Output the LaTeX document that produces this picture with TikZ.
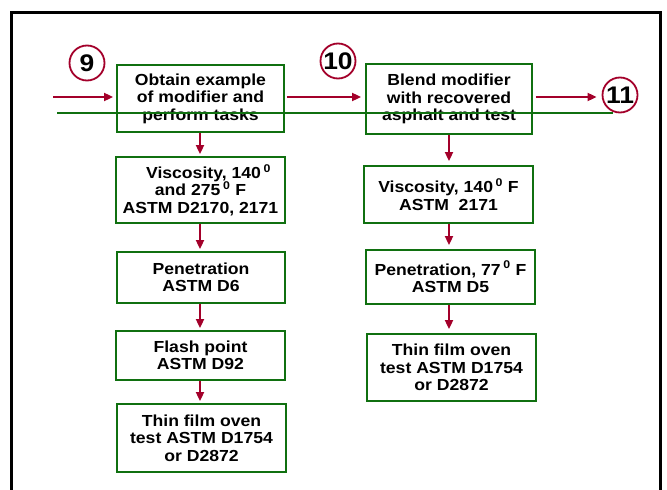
\documentclass[tikz,border=0pt]{standalone}
\usepackage{fontspec}
\setmainfont[FakeStretch=1.1]{Liberation Sans}
\usetikzlibrary{positioning}
\usetikzlibrary{arrows.meta}
\definecolor{boxgreen}{RGB}{16,112,16}
\definecolor{flowred}{RGB}{163,0,42}

\begin{document}
\begin{tikzpicture}[x=1pt,y=-1pt]
    \tikzset{
        every node/.style={font=\fontsize{16}{17.5}\selectfont\bfseries, align=center},
        taskbox/.style={draw=boxgreen, line width=1.8pt, inner sep=0pt},
        stepnum/.style={draw=flowred, circle, line width=1.8pt, minimum size=35pt, inner sep=0pt,
            font=\fontsize{24}{26}\selectfont\bfseries},
        flow/.style={-{Triangle[length=9pt,width=8pt]}, flowred, line width=1.8pt}
    }
    \useasboundingbox (0,0) rectangle (667,490);

    % frame, open at the bottom
    \draw [line width=3pt] (11,490) -- (11,12) -- (660,12) -- (660,490);

    % top row
    \node [taskbox, minimum width=167pt, minimum height=67pt] (obtain) at (200.5,98.5)
        {Obtain example\\of modifier and\\perform tasks};
    \node [taskbox, minimum width=166pt, minimum height=70pt] (blend) at (449,99)
        {Blend modifier\\with recovered\\asphalt and test};
    \node [stepnum] (s9) at (87,63) {9};
    \node [stepnum] (s10) at (338,61) {10};
    \node [stepnum] (s11) at (620,95) {11};

    \coordinate (in) at (53,97);
    \draw [flow, shorten >=3pt] (in) -- (in -| obtain.west);
    \draw [flow, shorten <=2pt, shorten >=4pt] (obtain.east |- in) -- (blend.west |- in);
    \draw [flow, shorten <=3pt, shorten >=5pt] (blend.east |- in) -- (s11.west |- in);

    \coordinate (gl) at (57,113);
    \coordinate (gr) at (613,113);
    \draw [boxgreen, line width=1.8pt] (gl) -- (gr);

    % left column
    \node [taskbox, minimum width=169pt, minimum height=66pt] (viscA) at (200.5,190)
        {\hspace{1em}Viscosity, 140\,\textsuperscript{0}\\and 275\,\textsuperscript{0} F\\ASTM D2170, 2171};
    \node [taskbox, minimum width=168pt, minimum height=51pt] (penA) at (201,277.5)
        {Penetration\\ASTM D6};
    \node [taskbox, minimum width=169pt, minimum height=49pt] (flash) at (200.5,355.5)
        {Flash point\\ASTM D92};
    \node [taskbox, minimum width=169pt, minimum height=68pt] (tfotA) at (201.5,438)
        {Thin film oven\\test ASTM D1754\\or D2872};

    % right column
    \node [taskbox, minimum width=169pt, minimum height=57pt] (viscB) at (448.5,194.5)
        {Viscosity, 140\,\textsuperscript{0} F\\ASTM\ \ 2171};
    \node [taskbox, minimum width=169pt, minimum height=54pt] (penB) at (450.5,277)
        {Penetration, 77\,\textsuperscript{0} F\\ASTM D5};
    \node [taskbox, minimum width=169pt, minimum height=67pt] (tfotB) at (451.5,367.5)
        {Thin film oven\\test ASTM D1754\\or D2872};

    \foreach \a/\b in {obtain/viscA, viscA/penA, penA/flash, flash/tfotA} {
        \draw [flow, shorten >=2pt] (\a.south -| 200,0) -- (\b.north -| 200,0);
    }
    \foreach \a/\b in {blend/viscB, viscB/penB, penB/tfotB} {
        \draw [flow, shorten >=4pt] (\a.south -| 449,0) -- (\b.north -| 449,0);
    }

\end{tikzpicture}
\end{document}
